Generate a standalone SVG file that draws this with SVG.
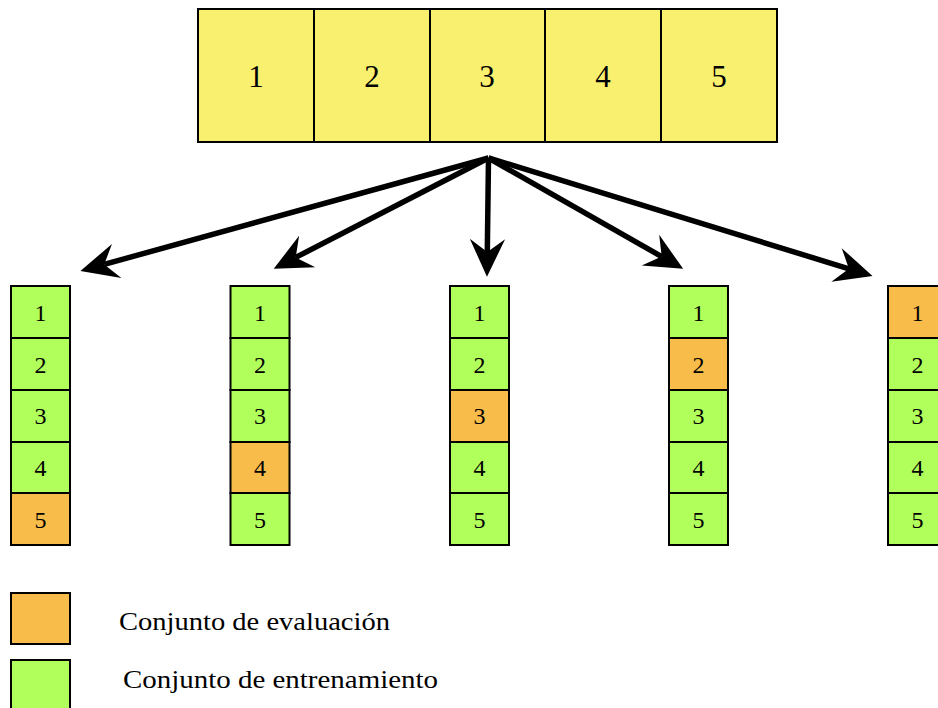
<svg xmlns="http://www.w3.org/2000/svg" width="938" height="708" viewBox="0 0 938 708">
<style>
  .y { fill: #F9F06F; stroke: #000; stroke-width: 2; }
  .g { fill: #B1FF5B; stroke: #000; stroke-width: 2; }
  .o { fill: #F8BC4B; stroke: #000; stroke-width: 2; }
  text { font-family: "Liberation Serif", "DejaVu Serif", serif; fill: #000; text-anchor: middle; }
  .big { font-size: 31px; }
  .sm { font-size: 24px; }
  .leg { font-size: 25px; text-anchor: start; }
  .arr { stroke: #000; stroke-width: 5.5; fill: none; marker-end: url(#head); }
</style>
<defs>
  <marker id="head" markerUnits="userSpaceOnUse" markerWidth="44" markerHeight="40" viewBox="-13 -17 36 34" refX="0" refY="0" orient="auto">
    <path d="M21,0 L-11,-15 L0,0 L-11,15 Z" fill="#000"/>
  </marker>
</defs>
<rect width="938" height="708" fill="#fff"/>

<g id="full">
  <rect class="y" x="198" y="9" width="116" height="133"/>
  <rect class="y" x="314" y="9" width="116" height="133"/>
  <rect class="y" x="430" y="9" width="115" height="133"/>
  <rect class="y" x="545" y="9" width="116" height="133"/>
  <rect class="y" x="661" y="9" width="116" height="133"/>
  <text class="big" x="256" y="87">1</text>
  <text class="big" x="372" y="87">2</text>
  <text class="big" x="487" y="87">3</text>
  <text class="big" x="603" y="87">4</text>
  <text class="big" x="719" y="87">5</text>
</g>

<g id="connectors">
  <line class="arr" x1="488.5" y1="158" x2="104.2" y2="264.4"/>
  <line class="arr" x1="488.5" y1="158" x2="295.7" y2="257.4"/>
  <line class="arr" x1="488.5" y1="158" x2="487.3" y2="252"/>
  <line class="arr" x1="488.5" y1="158" x2="661.7" y2="256.6"/>
  <line class="arr" x1="488.5" y1="158" x2="848.9" y2="268.8"/>
</g>

<g id="fold1">
  <rect class="g" x="11" y="286" width="59" height="52"/>
  <rect class="g" x="11" y="338" width="59" height="52"/>
  <rect class="g" x="11" y="390" width="59" height="52"/>
  <rect class="g" x="11" y="442" width="59" height="51"/>
  <rect class="o" x="11" y="493" width="59" height="52"/>
  <text class="sm" x="40.5" y="321">1</text>
  <text class="sm" x="40.5" y="373">2</text>
  <text class="sm" x="40.5" y="424">3</text>
  <text class="sm" x="40.5" y="476">4</text>
  <text class="sm" x="40.5" y="528">5</text>
</g>

<g id="fold2">
  <rect class="g" x="230.5" y="286" width="59" height="52"/>
  <rect class="g" x="230.5" y="338" width="59" height="52"/>
  <rect class="g" x="230.5" y="390" width="59" height="52"/>
  <rect class="o" x="230.5" y="442" width="59" height="51"/>
  <rect class="g" x="230.5" y="493" width="59" height="52"/>
  <text class="sm" x="260" y="321">1</text>
  <text class="sm" x="260" y="373">2</text>
  <text class="sm" x="260" y="424">3</text>
  <text class="sm" x="260" y="476">4</text>
  <text class="sm" x="260" y="528">5</text>
</g>

<g id="fold3">
  <rect class="g" x="450" y="286" width="59" height="52"/>
  <rect class="g" x="450" y="338" width="59" height="52"/>
  <rect class="o" x="450" y="390" width="59" height="52"/>
  <rect class="g" x="450" y="442" width="59" height="51"/>
  <rect class="g" x="450" y="493" width="59" height="52"/>
  <text class="sm" x="479.5" y="321">1</text>
  <text class="sm" x="479.5" y="373">2</text>
  <text class="sm" x="479.5" y="424">3</text>
  <text class="sm" x="479.5" y="476">4</text>
  <text class="sm" x="479.5" y="528">5</text>
</g>

<g id="fold4">
  <rect class="g" x="669" y="286" width="59" height="52"/>
  <rect class="o" x="669" y="338" width="59" height="52"/>
  <rect class="g" x="669" y="390" width="59" height="52"/>
  <rect class="g" x="669" y="442" width="59" height="51"/>
  <rect class="g" x="669" y="493" width="59" height="52"/>
  <text class="sm" x="698.5" y="321">1</text>
  <text class="sm" x="698.5" y="373">2</text>
  <text class="sm" x="698.5" y="424">3</text>
  <text class="sm" x="698.5" y="476">4</text>
  <text class="sm" x="698.5" y="528">5</text>
</g>

<g id="fold5">
  <rect class="o" x="888" y="286" width="59" height="52"/>
  <rect class="g" x="888" y="338" width="59" height="52"/>
  <rect class="g" x="888" y="390" width="59" height="52"/>
  <rect class="g" x="888" y="442" width="59" height="51"/>
  <rect class="g" x="888" y="493" width="59" height="52"/>
  <text class="sm" x="917.5" y="321">1</text>
  <text class="sm" x="917.5" y="373">2</text>
  <text class="sm" x="917.5" y="424">3</text>
  <text class="sm" x="917.5" y="476">4</text>
  <text class="sm" x="917.5" y="528">5</text>
</g>

<g id="legend-eval">
  <rect class="o" x="11" y="593" width="59" height="51"/>
  <text class="leg" x="119" y="630" textLength="271" lengthAdjust="spacingAndGlyphs">Conjunto de evaluación</text>
</g>
<g id="legend-train">
  <rect class="g" x="11" y="660" width="59" height="52"/>
  <text class="leg" x="123" y="688" textLength="315" lengthAdjust="spacingAndGlyphs">Conjunto de entrenamiento</text>
</g>
</svg>
